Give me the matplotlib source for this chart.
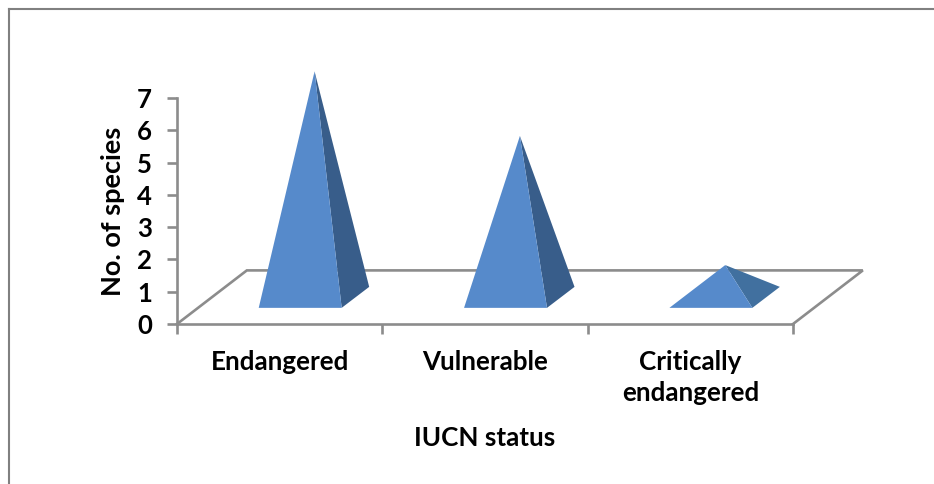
import matplotlib
matplotlib.use('Agg')
import matplotlib.pyplot as plt
from matplotlib.lines import Line2D
from matplotlib.patches import Polygon

plt.rcParams['font.family'] = ['Lato', 'DejaVu Sans']
plt.rcParams['font.weight'] = 'bold'

categories = ['Endangered', 'Vulnerable', 'Critically\nendangered']
species = [7, 5, 1]
yticks = [0, 1, 2, 3, 4, 5, 6, 7]

W, H = 934, 484
GREY = '#8c8c8c'
FRONT = '#568acb'
SIDES = ['#385d8a', '#385d8a', '#41709f']

# fake 3d look, offsets in axis units
floor_dx = 0.34
floor_dy = 1.66
base_y = 0.5
half_w = 0.202
depth_dx = 0.134
depth_dy = 0.65
centre = 0.6
apex_dx = 0.07

fig = plt.figure(figsize=(W / 100, H / 100), dpi=100)
ax = fig.add_axes([177 / W, 1 - 324 / H, 616 / W, 226 / H])
ax.set_xlim(0, 3)
ax.set_ylim(0, 7)
ax.patch.set_visible(False)
for s in ['top', 'right']:
    ax.spines[s].set_visible(False)
for s in ['left', 'bottom']:
    ax.spines[s].set_color(GREY)
    ax.spines[s].set_linewidth(1.9)

# floor
ax.plot([0, floor_dx, 3 + floor_dx, 3], [0, floor_dy, floor_dy, 0],
        color=GREY, lw=1.9, clip_on=False, zorder=1, solid_joinstyle='miter')

# pyramids
for i, v in enumerate(species):
    cx = i + centre
    left = cx - half_w
    right = cx + half_w
    apex = (cx + apex_dx, v + base_y + depth_dy / 2)
    ax.add_patch(Polygon([(right, base_y), (right + depth_dx, base_y + depth_dy), apex],
                         closed=True, fc=SIDES[i], ec='none', clip_on=False, zorder=3))
    ax.add_patch(Polygon([(left, base_y), (right, base_y), apex],
                         closed=True, fc=FRONT, ec='none', clip_on=False, zorder=4))

ax.set_yticks(yticks)
ax.set_yticklabels([str(t) for t in yticks], fontsize=18.5, fontweight='bold')
ax.tick_params(axis='y', length=7, width=1.9, color=GREY, pad=11)

ax.set_xticks(range(4))
ax.set_xticklabels([])
ax.set_xticks([0.5, 1.5, 2.5], minor=True)
ax.set_xticklabels(categories, minor=True, fontsize=18.7, fontweight='bold', linespacing=1.38)
ax.tick_params(axis='x', which='major', length=7, width=1.9, color=GREY)
ax.tick_params(axis='x', which='minor', length=0, pad=18.5)

ax.set_xlabel('IUCN status', fontsize=18.7, fontweight='bold', labelpad=15)
ax.set_ylabel('No. of species', fontsize=19.5, fontweight='bold', labelpad=8.5)

# outer chart frame, only top and left are in the crop
fig.add_artist(Line2D([9 / W, 9 / W], [0, 1 - 9 / H], color='#808080', lw=1.5))
fig.add_artist(Line2D([9 / W, 1], [1 - 9 / H, 1 - 9 / H], color='#808080', lw=1.5))

fig.savefig('out.png', dpi=100)
